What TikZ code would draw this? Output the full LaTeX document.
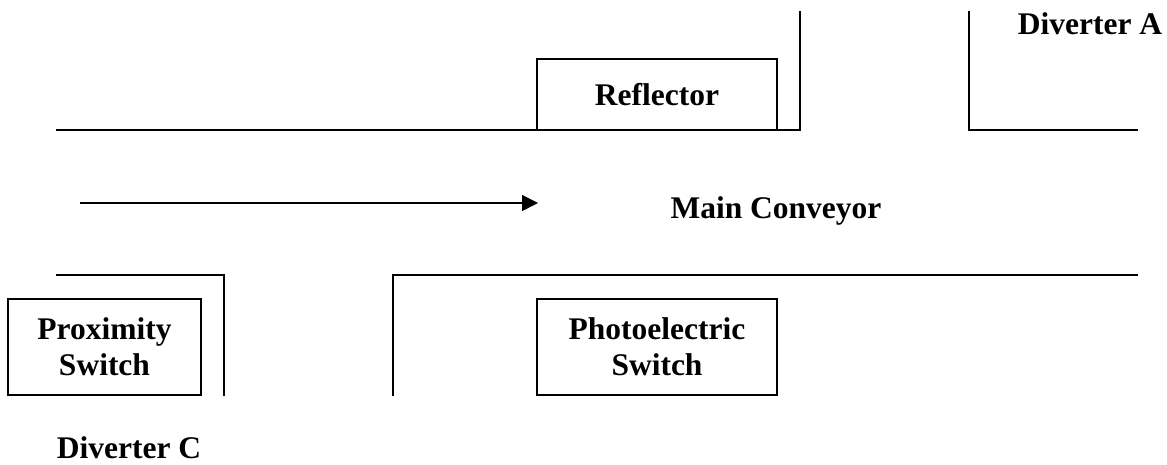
\documentclass[tikz,border=0pt]{standalone}
\usepackage{fontspec}
\setmainfont{Liberation Serif}
\usetikzlibrary{arrows.meta}
\begin{document}
\begin{tikzpicture}[x=1pt,y=-1pt,
  wall/.style={line width=2pt,line cap=rect},
  box/.style={draw,line width=2pt,inner sep=0pt,align=center,font=\fontsize{31.5}{36}\selectfont\bfseries},
  lbl/.style={inner sep=0pt,anchor=base,font=\fontsize{31.5}{36}\selectfont\bfseries}]
\useasboundingbox (0,0) rectangle (1167,464);
% walls
\draw[wall] (57,130) -- (800,130) -- (800,12);
\draw[wall] (969,12) -- (969,130) -- (1137,130);
\draw[wall] (57,275) -- (224,275) -- (224,395);
\draw[wall] (393,395) -- (393,275) -- (1137,275);
% boxes
\node[box,minimum width=240pt,minimum height=71pt] (refl) at (657,94.5) {Reflector};
\node[box,minimum width=193pt,minimum height=96pt] (prox) at (104.5,347) {Proximity\\Switch};
\node[box,minimum width=240pt,minimum height=96pt] (photo) at (657,347) {Photoelectric\\Switch};
% labels
\node[lbl] (divA) at (1090,34) {Diverter A};
\node[lbl] (main) at (776,218) {Main Conveyor};
\node[lbl] (divC) at (129,458) {Diverter C};
% arrow
\coordinate (as) at (80,203);
\coordinate (ae) at (538,203);
\draw[line width=1.5pt,-{Triangle[length=16pt,width=16pt]}] (as) -- (ae);
\end{tikzpicture}
\end{document}
